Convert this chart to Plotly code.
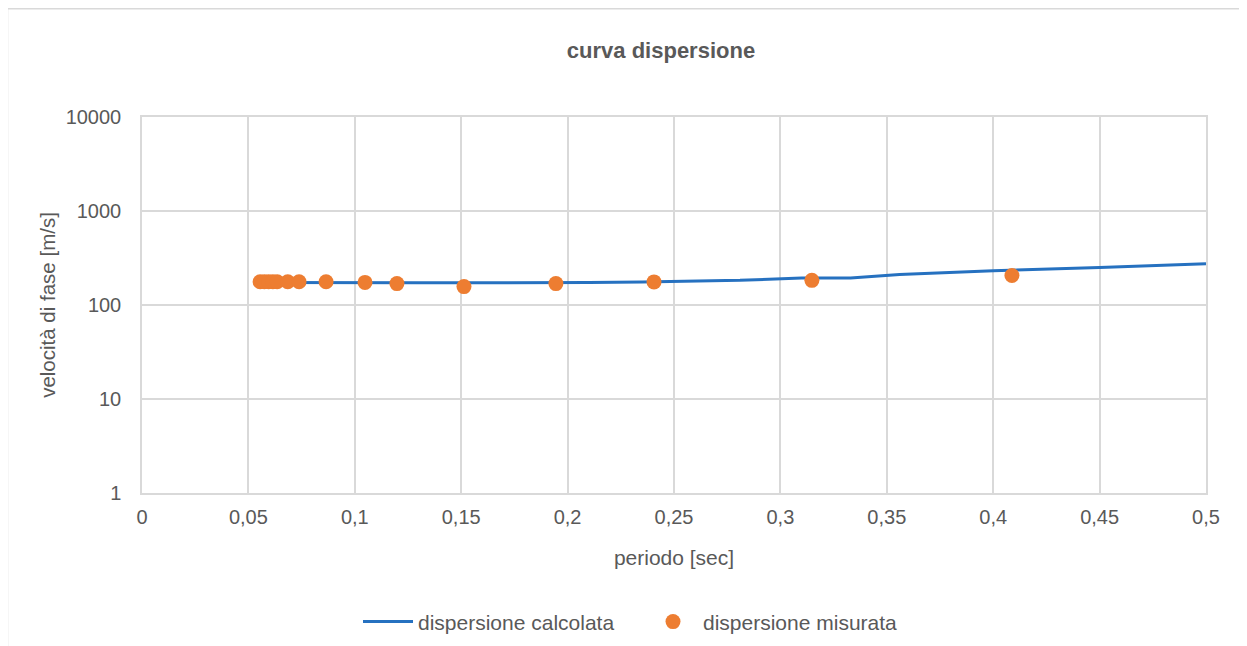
import plotly.graph_objects as go

# calculated dispersion curve
periodo_calc = [0.055, 0.07, 0.09, 0.11, 0.13, 0.15, 0.18, 0.21, 0.235, 0.26, 0.281, 0.31, 0.333, 0.356, 0.40, 0.45, 0.5]
vel_calc = [174, 173, 172, 172, 172, 172, 172, 173, 176, 178, 183, 194, 194, 211, 232, 251, 274]

# measured dispersion points
periodo_mis = [0.0555, 0.0575, 0.0595, 0.0615, 0.0635, 0.0685, 0.0738, 0.0865, 0.1048, 0.1198, 0.1513, 0.1945, 0.2406, 0.3148, 0.4088]
vel_mis = [177, 177, 177, 177, 177, 177, 177, 177, 174, 169, 157, 169, 176, 183, 206]

x_ticks = [0, 0.05, 0.1, 0.15, 0.2, 0.25, 0.3, 0.35, 0.4, 0.45, 0.5]
x_ticktext = ["0", "0,05", "0,1", "0,15", "0,2", "0,25", "0,3", "0,35", "0,4", "0,45", "0,5"]
y_ticks = [1, 10, 100, 1000, 10000]
y_ticktext = ["1", "10", "100", "1000", "10000"]

FONT = "Liberation Sans, Arial, sans-serif"
GRAY = "#595959"
GRID = "#d9d9d9"

fig = go.Figure()
fig.add_trace(go.Scatter(
    x=periodo_calc, y=vel_calc, mode="lines",
    name="dispersione calcolata",
    line=dict(color="#2671C0", width=3),
))
fig.add_trace(go.Scatter(
    x=periodo_mis, y=vel_mis, mode="markers",
    name="dispersione misurata",
    marker=dict(color="#ED7D31", size=15),
))

fig.update_layout(
    width=1247, height=646,
    margin=dict(l=134, r=49, t=109, b=158),
    paper_bgcolor="white", plot_bgcolor="white",
    font=dict(family=FONT, color=GRAY, size=20),
    title=dict(text="<b>curva dispersione</b>", x=653 / 1247, xref="container", xanchor="center",
               y=1 - 42 / 646, yref="container", yanchor="middle",
               font=dict(size=22, color=GRAY, family=FONT)),
    showlegend=True,
    legend=dict(orientation="h", x=(358 - 142) / 1064, xanchor="left", y=-0.343, yanchor="middle",
                font=dict(size=21, color=GRAY), itemwidth=50,
                entrywidth=220, entrywidthmode="pixels"),
    shapes=[dict(type="rect", xref="paper", yref="paper",
                 x0=(7.5 - 142) / 1064, x1=1.2, y0=-0.5, y1=(496 - 8) / 379,
                 line=dict(color="#d9d9d9", width=1.5), fillcolor="rgba(0,0,0,0)", layer="below")],
)

fig.update_xaxes(
    range=[0, 0.5], tickvals=x_ticks, ticktext=x_ticktext,
    showgrid=True, gridcolor=GRID, gridwidth=1.5,
    showline=True, mirror=True, linecolor=GRID, linewidth=1.5,
    zeroline=False, ticks="", ticklabelstandoff=5,
    tickfont=dict(size=20, color=GRAY),
    title=dict(text="periodo [sec]", font=dict(size=21, color=GRAY), standoff=24),
)
fig.update_yaxes(
    type="log", range=[0, 4], tickvals=y_ticks, ticktext=y_ticktext,
    showgrid=True, gridcolor=GRID, gridwidth=1.5,
    showline=True, mirror=True, linecolor=GRID, linewidth=1.5,
    zeroline=False, ticks="", ticklabelstandoff=15,
    tickfont=dict(size=20, color=GRAY),
    title=dict(text="velocità di fase [m/s]", font=dict(size=20.5, color=GRAY), standoff=4),
)

fig.write_html("out.html")
